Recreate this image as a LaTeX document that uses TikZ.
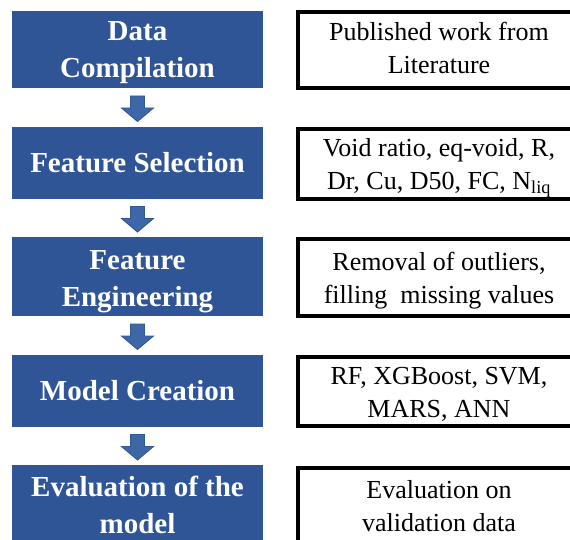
\documentclass[tikz,border=0pt]{standalone}
\usepackage{fontspec}
\setmainfont{Liberation Serif}
\usetikzlibrary{calc}
\definecolor{stepblue}{RGB}{47,85,151}
\definecolor{arrowfill}{RGB}{62,103,167}
\definecolor{arrowedge}{RGB}{50,88,145}
\begin{document}
\begin{tikzpicture}[x=1pt,y=-1pt,
  stage/.style={rectangle, fill=stepblue, draw=none,
    minimum width=251pt, inner sep=0pt},
  stagetext/.style={text=white, align=center, inner sep=0pt,
    font=\fontsize{29}{37}\selectfont\bfseries},
  detail/.style={rectangle, draw=black, line width=3.8pt, fill=white,
    minimum width=282pt, inner sep=0pt},
  detailtext/.style={align=center, inner sep=0pt,
    font=\fontsize{26}{33}\selectfont},
  flowarrow/.style={fill=arrowfill, draw=arrowedge, line width=0.9pt, line join=miter}]
\useasboundingbox (0,0) rectangle (570,540);
\clip (0,0) rectangle (570,540);
\fill[white] (0,0) rectangle (570,540);

% workflow stages
\node[stage, minimum height=77pt] (L1) at (137.5,49.5) {};
\node[stage, minimum height=72pt] (L2) at (137.5,163) {};
\node[stage, minimum height=79pt] (L3) at (137.5,276.5) {};
\node[stage, minimum height=72pt] (L4) at (137.5,391) {};
\node[stage, minimum height=82pt] (L5) at (137.5,506) {};
\node[stagetext] (L1t) at ($(L1.center)+(0,3)$) {Data\\Compilation};
\node[stagetext] (L2t) at (L2.center) {Feature Selection};
\node[stagetext] (L3t) at ($(L3.center)+(0,5)$) {Feature\\Engineering};
\node[stagetext] (L4t) at (L4.center) {Model Creation};
\node[stagetext] (L5t) at ($(L5.center)+(0,-1)$) {Evaluation of the\\model};

% details for each stage
\node[detail, minimum height=76pt] (R1) at (439,50) {};
\node[detail, minimum height=70pt] (R2) at (439,164) {};
\node[detail, minimum height=77pt] (R3) at (439,277.5) {};
\node[detail, minimum height=69pt] (R4) at (439,391.5) {};
\node[detail, minimum height=82pt] (R5) at (439,509) {};
\node[detailtext] (R1t) at ($(R1.center)+(0,-2)$) {Published work from\\Literature};
\node[detailtext] (R2t) at ($(R2.center)+(0,4)$) {Void ratio, eq-void, R,\\Dr, Cu, D50, FC, N\textsubscript{liq}};
\node[detailtext] (R3t) at ($(R3.center)+(0,3)$) {Removal of outliers,\\filling\ \ missing values};
\node[detailtext] (R4t) at ($(R4.center)+(0,3)$) {RF, XGBoost, SVM,\\MARS, ANN};
\node[detailtext] (R5t) at ($(R5.center)+(0,-3)$) {Evaluation on\\validation data};

% block arrows between stages
\foreach \a/\b in {L1/L2, L2/L3, L3/L4, L4/L5}{
  \coordinate (m) at ($(\a.south)!0.5!(\b.north)+(0,1)$);
  \draw[flowarrow] ($(m)+(-7,-12.5)$) -- ++(14,0) -- ++(0,12) -- ++(9,0)
    -- ($(m)+(0,13)$) -- ($(m)+(-16,-0.5)$) -- ++(9,0) -- cycle;
}
\end{tikzpicture}
\end{document}
